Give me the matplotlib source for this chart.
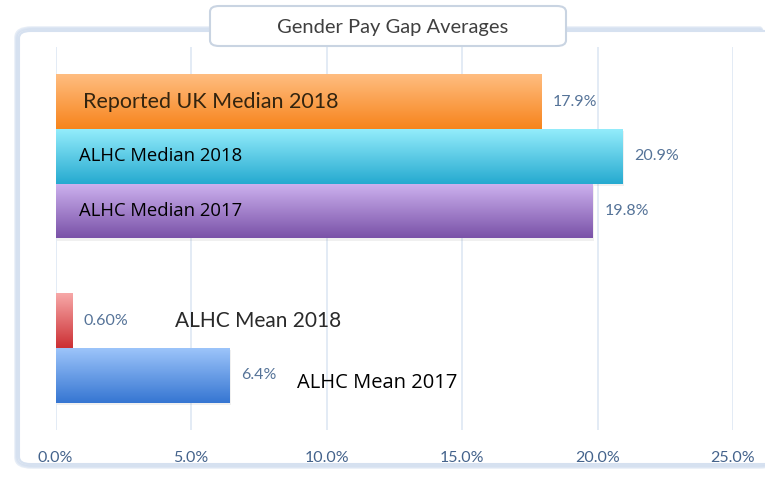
import numpy as np
import matplotlib.pyplot as plt
from matplotlib.patches import FancyBboxPatch
from matplotlib.colors import LinearSegmentedColormap

labels = ["Reported UK Median 2018", "ALHC Median 2018", "ALHC Median 2017",
          "ALHC Mean 2018", "ALHC Mean 2017"]
values = [17.9, 20.9, 19.8, 0.6, 6.4]
value_text = ["17.9%", "20.9%", "19.8%", "0.60%", "6.4%"]
slots = [0, 1, 2, 4, 5]
ticks = [0, 5, 10, 15, 20, 25]
tick_labels = ["0.0%", "5.0%", "10.0%", "15.0%", "20.0%", "25.0%"]

# top / bottom colour of each bar gradient
grad = [("#ffbd80", "#f7841c"),
        ("#93ecfb", "#26aad0"),
        ("#cdb2ef", "#7a52a8"),
        ("#f7a8a8", "#cc3034"),
        ("#9cc4fa", "#3676d2")]

fig = plt.figure(figsize=(7.65, 4.78), dpi=100)
W, H = 765, 478

# outer frame with soft blue border
for i, a in enumerate([0.10, 0.16, 0.24, 0.35]):
    pad = 4 - i
    fig.patches.append(FancyBboxPatch(
        ((15 + pad) / W, (H - 468 + pad) / H), (760 - pad) / W, (441 - 2 * pad) / H,
        boxstyle="round,pad=0,rounding_size=0.02", transform=fig.transFigure,
        facecolor="none", edgecolor="#b8cbe6", linewidth=2.5, alpha=a, zorder=-2))
fig.patches.append(FancyBboxPatch(
    (19 / W, (H - 464) / H), 760 / W, 433 / H,
    boxstyle="round,pad=0,rounding_size=0.015", transform=fig.transFigure,
    facecolor="white", edgecolor="#d6e1f0", linewidth=1.5, zorder=-1))

ax = fig.add_axes([55.5 / W, 1 - 430 / H, (733 - 55.5) / W, (430 - 47) / H])
ax.set_facecolor("none")
ax.set_zorder(1)

bars = ax.barh(slots, values, height=1.0, color="none", edgecolor="none", zorder=2)
for b, (top, bot) in zip(bars, grad):
    cmap = LinearSegmentedColormap.from_list("g", [top, bot])
    x0, y0 = b.get_x(), b.get_y()
    img = ax.imshow(np.linspace(0, 1, 64).reshape(-1, 1), cmap=cmap, aspect="auto",
                    extent=(x0, x0 + b.get_width(), y0 + b.get_height(), y0),
                    zorder=2, interpolation="bilinear")
    img.set_clip_path(b)
    # slight drop shadow
    ax.add_patch(plt.Rectangle((x0 + 0.06, y0 + 0.04), b.get_width(), b.get_height(),
                               facecolor="#888888", alpha=0.12, zorder=1.5, edgecolor="none"))

ax.set_xlim(0, 25)
ax.set_ylim(6, -1)
ax.set_xticks(ticks)
ax.set_xticklabels(tick_labels, fontsize=11.5, color="#44638c", family="Lato")
ax.set_yticks([])
ax.tick_params(axis="x", length=0, pad=15)
for s in ax.spines.values():
    s.set_visible(False)
for t in ticks:
    ax.axvline(t, color="#e0e9f5", linewidth=1.3, zorder=0)

for v, y, t in zip(values, slots, value_text):
    ax.text(v + 0.45, y, t, va="center", ha="left", fontsize=11.5,
            color="#557398", family="Lato")

# labels
ax.text(1.0, 0, labels[0], va="center", ha="left", fontsize=15.5, color="#33240f",
        family="Lato")
ax.text(0.85, 1, labels[1], va="center", ha="left", fontsize=13.3, color="black", family="Open Sans")
ax.text(0.85, 2, labels[2], va="center", ha="left", fontsize=13.3, color="black", family="Open Sans")
ax.text(4.4, 4, labels[3], va="center", ha="left", fontsize=15, color="#2a2a2a", family="Lato")
ax.text(8.9, 5.15, labels[4], va="center", ha="left", fontsize=14.5, color="black", family="Open Sans")

# title tab
fig.patches.append(FancyBboxPatch(
    (210 / W, (H - 46) / H), 356 / W, 40 / H,
    boxstyle="round,pad=0,rounding_size=0.012", transform=fig.transFigure,
    facecolor="white", edgecolor="#c9d4e2", linewidth=1.5, zorder=3))
fig.text(393 / W, 1 - 28 / H, "Gender Pay Gap Averages", ha="center", va="center",
         fontsize=14.5, color="#404040", family="Lato", zorder=4)

fig.savefig("out.png", dpi=100)
